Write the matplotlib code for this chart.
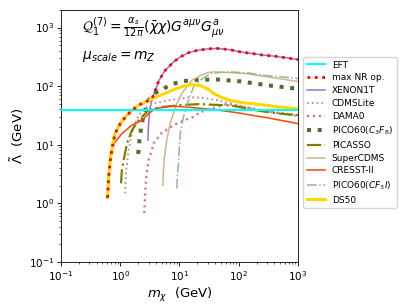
import numpy as np
from matplotlib import pyplot as plt

# EFT validity line
eft_x = [0.1, 1000]
eft_y = [39, 39]

ds50_x = [0.61, 0.64, 0.68, 0.75, 0.82, 1.0, 1.21, 1.5, 2.0, 3.0, 3.9, 5.5, 7.5, 11.5, 16, 22, 30, 37, 50, 72, 120, 260, 500, 1000]
ds50_y = [1.25, 3.0, 5.5, 10.5, 15.7, 23, 29.5, 37, 47, 57, 64.5, 74, 85, 100, 106, 103, 90, 76, 65, 57, 52, 48, 44, 41]

xenon_x = [2.93, 3.0, 3.1, 3.2, 3.45, 3.9, 4.5, 5.7, 8, 10.3, 14, 19.6, 30, 42, 70, 105, 260, 400, 1000]
xenon_y = [12, 22, 33, 44, 60, 85, 125, 185, 260, 315, 370, 405, 432, 440, 420, 385, 338, 325, 285]

maxnr_x = [0.61, 0.64, 0.68, 0.75, 0.82, 1.0, 1.21, 1.5, 2.0, 3.0, 3.45, 3.9, 4.5, 5.7, 8, 10.3, 14, 19.6, 30, 42, 70, 105, 260, 400, 1000]
maxnr_y = [1.25, 3.0, 5.5, 10.5, 15.7, 23, 29.5, 37, 47, 57, 62, 85, 125, 185, 260, 315, 370, 405, 432, 440, 420, 385, 338, 325, 285]

cdmslite_x = [1.21, 1.23, 1.26, 1.38, 1.57, 1.91, 2.47, 3.64, 6.5, 10.9, 15.1, 25, 42.7, 99, 137, 300, 1000]
cdmslite_y = [1.48, 2.5, 3.7, 8.1, 15.6, 28, 41.6, 50.7, 57.6, 62, 65, 63, 58, 47, 44, 38, 32]

dama_x = [2.54, 2.57, 2.71, 3.0, 3.42, 3.64, 5.0, 9.0, 13, 17.3, 22.3, 29, 42.7, 63, 100, 300, 1000]
dama_y = [0.68, 0.9, 2.5, 5.5, 8.1, 10.5, 16, 23, 27, 30, 36, 39, 44, 50, 46, 37, 31]

pico_c3f8_x = [2.0, 2.04, 2.12, 2.26, 2.47, 3.0, 4.0, 5.37, 7.9, 11.7, 20, 42.7, 105, 297, 1000]
pico_c3f8_y = [7, 8.1, 12.8, 20, 31.8, 57.6, 78, 91, 110, 122, 128, 130, 121, 104, 90]

picasso_x = [1.03, 1.06, 1.14, 1.3, 1.57, 2.04, 3.0, 5.04, 9.6, 15, 22.3, 40, 71.6, 150, 261, 500, 1000]
picasso_y = [2.2, 3.5, 5.5, 10.5, 17.7, 26.2, 39, 44, 47, 48.5, 49.5, 48, 47, 41, 37, 34, 32]

supercdms_x = [5.25, 5.35, 5.5, 6.1, 6.97, 8.5, 10.9, 16.2, 22, 30, 37.5, 60, 137, 300, 1000]
supercdms_y = [2.05, 3.5, 5.5, 11.9, 23, 44, 74.6, 126, 150, 170, 175, 172, 163, 145, 120]

cresst_x = [0.66, 0.68, 0.75, 0.82, 1.07, 1.57, 2.32, 3.0, 3.94, 5.74, 7.0, 10, 15, 22, 37, 60, 100, 137, 300, 1000]
cresst_y = [5.0, 7.1, 9.5, 11.2, 15.6, 21.6, 26.2, 34, 41.6, 44, 45.5, 45, 43.5, 42, 40, 37.5, 35, 33, 29, 23]

pico_cf3i_x = [9.0, 9.2, 9.6, 10.3, 11.7, 14.2, 17.3, 22.3, 33, 50, 71.6, 150, 261, 500, 1000]
pico_cf3i_y = [1.8, 3.0, 4.8, 15.6, 30, 57.6, 97, 126, 163, 172, 175, 168, 153, 145, 135]

plt.rcParams['axes.linewidth'] = 0.6
for a in ('xtick', 'ytick'):
    plt.rcParams[a + '.major.size'] = 2.6
    plt.rcParams[a + '.major.width'] = 0.6
    plt.rcParams[a + '.minor.size'] = 1.5
    plt.rcParams[a + '.minor.width'] = 0.45
    plt.rcParams[a + '.labelsize'] = 7.5
    plt.rcParams[a + '.major.pad'] = 2.5

fig = plt.figure(figsize=(4.07, 3.08), dpi=100)
ax = fig.add_axes([0.150, 0.149, 0.582, 0.819])

ax.plot(eft_x, eft_y, color='cyan', lw=1.5, label='EFT', zorder=3)
ax.plot(maxnr_x, maxnr_y, color='red', lw=2.0, ls=':', label='max NR op.', zorder=4)
ax.plot(xenon_x, xenon_y, color='mediumpurple', lw=1.1, label='XENON1T')
ax.plot(cdmslite_x, cdmslite_y, color='rosybrown', lw=1.3, ls=':', label='CDMSLite')
ax.plot(dama_x, dama_y, color='palevioletred', lw=1.6, ls=':', label='DAMA0')
ax.plot(pico_c3f8_x, pico_c3f8_y, color='darkolivegreen', lw=2.9, ls=':', label='PICO60($C_3F_8$)')
ax.plot(picasso_x, picasso_y, color='olive', lw=1.6, ls='-.', label='PICASSO')
ax.plot(supercdms_x, supercdms_y, color='tan', lw=1.1, label='SuperCDMS')
ax.plot(cresst_x, cresst_y, color='orangered', lw=1.1, label='CRESST-II')
ax.plot(pico_cf3i_x, pico_cf3i_y, color='darkseagreen', lw=1.1, ls='-.', label='PICO60($CF_3I$)')
ax.plot(ds50_x, ds50_y, color='gold', lw=2.2, label='DS50')

ax.set_xscale('log')
ax.set_yscale('log')
ax.set_xlim(0.1, 1000)
ax.set_ylim(0.1, 2000)
ax.set_xlabel(r'$m_\chi$  (GeV)', fontsize=9.5, labelpad=2)
ax.set_ylabel(r'$\tilde{\Lambda}$  (GeV)', fontsize=9.5, labelpad=2)

ax.text(0.09, 0.93, r'$\mathcal{Q}_1^{(7)} = \frac{\alpha_s}{12\pi}(\bar{\chi}\chi)G^{a\mu\nu}G^a_{\mu\nu}$',
        transform=ax.transAxes, fontsize=10, va='center')
ax.text(0.09, 0.815, r'$\mu_{scale} = m_Z$', transform=ax.transAxes, fontsize=10, va='center')

ax.legend(loc='upper left', bbox_to_anchor=(1.021, 0.813), fontsize=6.5, borderaxespad=0.,
          labelspacing=0.42)

plt.savefig('out.png')
